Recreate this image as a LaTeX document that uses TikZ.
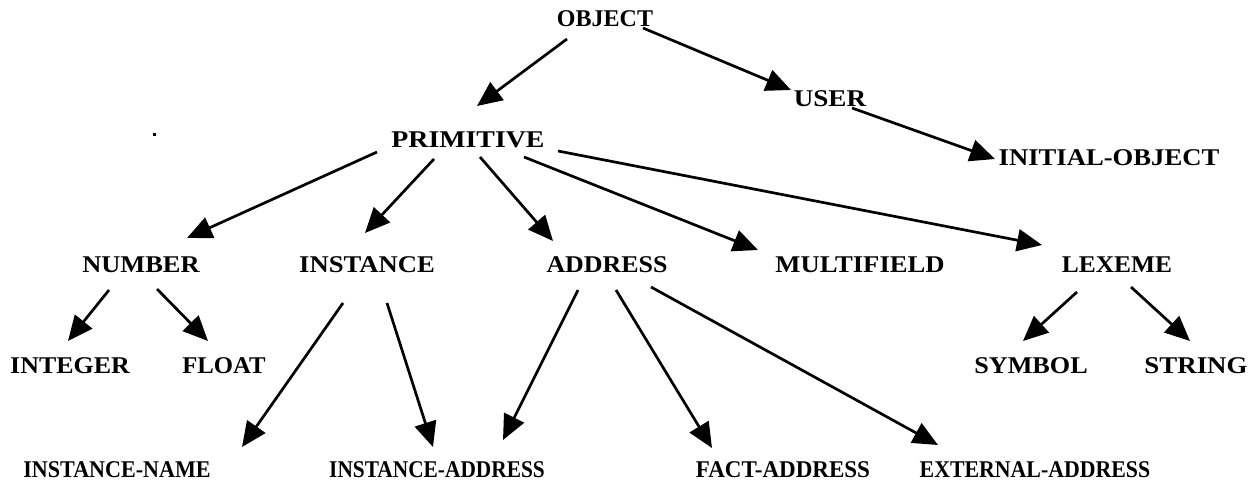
\documentclass[tikz,border=0pt]{standalone}
\usepackage{graphicx}
\usepackage{fontspec}
\setmainfont{Liberation Serif}
\usetikzlibrary{arrows.meta}
\newcommand\hsc[2]{\scalebox{#1}[1]{#2}}
\begin{document}
\begin{tikzpicture}[x=1pt,y=-1pt,
  lbl/.style={font=\fontsize{24}{28}\selectfont\bfseries, inner sep=0pt, anchor=center},
  arr/.style={line width=2.7pt, -{Triangle[length=25pt,width=22pt]}}]
\useasboundingbox (0,0) rectangle (1255,483);
\node[lbl] (obj) at (605,19) {OBJECT};
\node[lbl] (user) at (830,99) {\hsc{1.13}{USER}};
\node[lbl] (prim) at (468,140) {\hsc{1.16}{PRIMITIVE}};
\node[lbl] (init) at (1109,158) {\hsc{1.11}{INITIAL-OBJECT}};
\node[lbl] (num) at (141,265) {\hsc{1.10}{NUMBER}};
\node[lbl] (inst) at (367,265) {\hsc{1.11}{INSTANCE}};
\node[lbl] (addr) at (607,265) {\hsc{1.08}{ADDRESS}};
\node[lbl] (mult) at (860,265) {\hsc{1.11}{MULTIFIELD}};
\node[lbl] (lex) at (1117,265) {\hsc{1.06}{LEXEME}};
\node[lbl] (int) at (70,366) {\hsc{1.08}{INTEGER}};
\node[lbl] (flt) at (224,366) {\hsc{1.03}{FLOAT}};
\node[lbl] (sym) at (1031,366) {\hsc{1.09}{SYMBOL}};
\node[lbl] (str) at (1196,366) {\hsc{1.12}{STRING}};
\node[lbl] (iname) at (117,470) {\hsc{0.92}{INSTANCE-NAME}};
\node[lbl] (iaddr) at (437,470) {\hsc{0.89}{INSTANCE-ADDRESS}};
\node[lbl] (fact) at (783,470) {\hsc{0.96}{FACT-ADDRESS}};
\node[lbl] (ext) at (1035,470) {\hsc{0.91}{EXTERNAL-ADDRESS}};
\fill (152.5,132.5) rectangle (155.5,135.5);
\draw[arr] ([shift={(-38,20)}]obj.center) -- ([shift={(9,-34)}]prim.center);
\draw[arr] ([shift={(38,9)}]obj.center) -- ([shift={(-39,-9)}]user.center);
\draw[arr] ([shift={(22,9)}]user.center) -- ([shift={(-114,1)}]init.center);
\draw[arr] ([shift={(-91,12)}]prim.center) -- ([shift={(46,-27)}]num.center);
\draw[arr] ([shift={(-34,19)}]prim.center) -- ([shift={(-2,-32)}]inst.center);
\draw[arr] ([shift={(12,17)}]prim.center) -- ([shift={(-54,-24)}]addr.center);
\draw[arr] ([shift={(56,17)}]prim.center) -- ([shift={(-102,-15)}]mult.center);
\draw[arr] ([shift={(90,11)}]prim.center) -- ([shift={(-75,-20)}]lex.center);
\draw[arr] ([shift={(-32,25)}]num.center) -- ([shift={(-2,-25)}]int.center);
\draw[arr] ([shift={(16,24)}]num.center) -- ([shift={(-16,-25)}]flt.center);
\draw[arr] ([shift={(-24,38)}]inst.center) -- ([shift={(125,-23)}]iname.center);
\draw[arr] ([shift={(20,38)}]inst.center) -- ([shift={(-4,-23)}]iaddr.center);
\draw[arr] ([shift={(-29,25)}]addr.center) -- ([shift={(66,-30)}]iaddr.center);
\draw[arr] ([shift={(9,25)}]addr.center) -- ([shift={(-71,-22)}]fact.center);
\draw[arr] ([shift={(44,22)}]addr.center) -- ([shift={(-97,-25)}]ext.center);
\draw[arr] ([shift={(-40,27)}]lex.center) -- ([shift={(-8,-25)}]sym.center);
\draw[arr] ([shift={(14,22)}]lex.center) -- ([shift={(-6,-25)}]str.center);
\end{tikzpicture}
\end{document}
